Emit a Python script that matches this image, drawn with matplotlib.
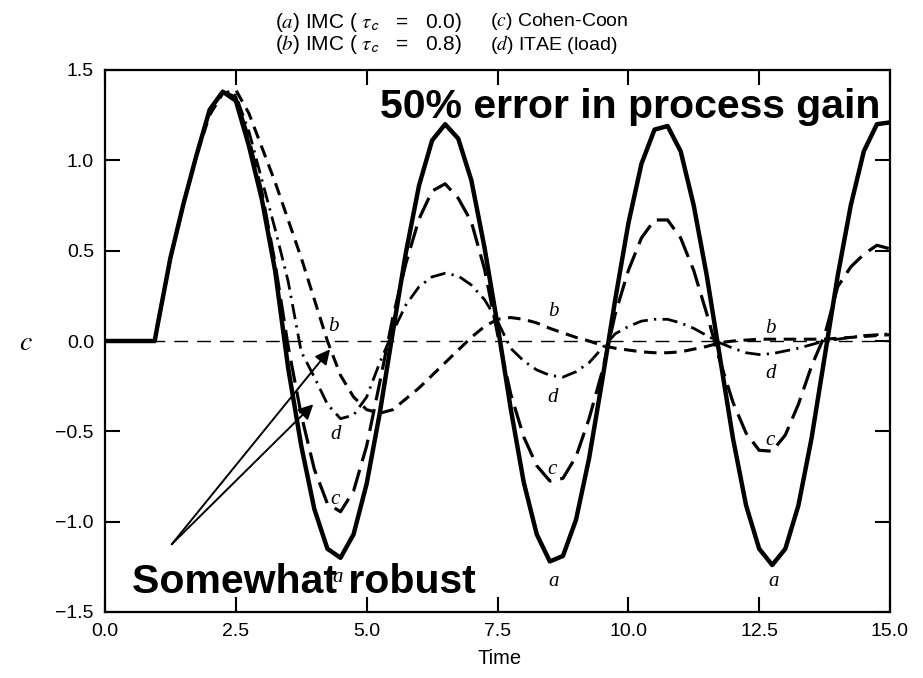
import matplotlib
matplotlib.use("Agg")
import matplotlib.pyplot as plt

plt.rcParams['font.family'] = ['Liberation Sans', 'DejaVu Sans']
plt.rcParams['mathtext.fontset'] = 'stix'
plt.rcParams['lines.scale_dashes'] = False

# ---------------- data ----------------
TIME = [0, 0.25, 0.5, 0.75, 0.95, 1.0, 1.25, 1.5, 1.75, 2.0, 2.25, 2.5, 2.75, 3.0,
        3.25, 3.5, 3.75, 4.0, 4.25, 4.5, 4.75, 5.0, 5.25, 5.5, 5.75, 6.0, 6.25,
        6.5, 6.75, 7.0, 7.25, 7.5, 7.75, 8.0, 8.25, 8.5, 8.75, 9.0, 9.25, 9.5,
        9.75, 10.0, 10.25, 10.5, 10.75, 11.0, 11.25, 11.5, 11.75, 12.0, 12.25,
        12.5, 12.75, 13.0, 13.25, 13.5, 13.75, 14.0, 14.25, 14.5, 14.75, 15.0]

# (a) IMC tau_c = 0.0
C_A = [0, 0, 0, 0, 0, 0.08, 0.46, 0.76, 1.03, 1.28, 1.38, 1.33, 1.08, 0.78,
       0.39, -0.15, -0.58, -0.93, -1.15, -1.20, -1.07, -0.79, -0.40, 0.05, 0.49,
       0.86, 1.11, 1.20, 1.12, 0.89, 0.52, 0.09, -0.37, -0.78, -1.07, -1.22,
       -1.19, -0.99, -0.65, -0.22, 0.23, 0.65, 0.98, 1.17, 1.19, 1.05, 0.75,
       0.36, -0.09, -0.54, -0.91, -1.15, -1.24, -1.15, -0.91, -0.54, -0.09,
       0.36, 0.75, 1.05, 1.20, 1.21]

# (b) IMC tau_c = 0.8
C_B = [0, 0, 0, 0, 0, 0.08, 0.46, 0.76, 1.03, 1.25, 1.37, 1.39, 1.26, 1.07,
       0.88, 0.67, 0.46, 0.23, 0.0, -0.19, -0.31, -0.38, -0.40, -0.38, -0.32,
       -0.26, -0.19, -0.12, -0.05, 0.02, 0.08, 0.12, 0.13, 0.12, 0.10, 0.07,
       0.045, 0.02, 0.0, -0.025, -0.04, -0.05, -0.06, -0.065, -0.065, -0.06,
       -0.045, -0.03, -0.01, 0.0, 0.005, 0.01, 0.01, 0.01, 0.01, 0.01, 0.01,
       0.015, 0.02, 0.025, 0.03, 0.035]

# (c) Cohen-Coon
C_C = [0, 0, 0, 0, 0, 0.08, 0.46, 0.76, 1.03, 1.28, 1.38, 1.35, 1.12, 0.82,
       0.43, -0.03, -0.41, -0.71, -0.90, -0.945, -0.83, -0.58, -0.23, 0.13,
       0.43, 0.675, 0.83, 0.87, 0.79, 0.66, 0.40, 0.04, -0.29, -0.53, -0.69,
       -0.775, -0.76, -0.64, -0.43, -0.17, 0.15, 0.39, 0.57, 0.67, 0.67, 0.57,
       0.39, 0.15, -0.11, -0.34, -0.51, -0.605, -0.61, -0.52, -0.35, -0.14,
       0.03, 0.30, 0.41, 0.48, 0.53, 0.51]

# (d) ITAE (load)
C_D = [0, 0, 0, 0, 0, 0.08, 0.46, 0.76, 1.03, 1.28, 1.38, 1.36, 1.16, 0.89,
       0.62, 0.33, -0.06, -0.20, -0.35, -0.43, -0.41, -0.31, -0.12, 0.05, 0.20,
       0.30, 0.355, 0.375, 0.36, 0.31, 0.23, 0.11, -0.04, -0.11, -0.16, -0.19,
       -0.20, -0.17, -0.12, -0.04, 0.04, 0.08, 0.11, 0.12, 0.12, 0.10, 0.07,
       0.03, -0.01, -0.04, -0.065, -0.075, -0.07, -0.055, -0.04, -0.02, 0.0,
       0.01, 0.02, 0.03, 0.035, 0.04]

X_TICKS = [0.0, 2.5, 5.0, 7.5, 10.0, 12.5, 15.0]
X_LABELS = ["0.0", "2.5", "5.0", "7.5", "10.0", "12.5", "15.0"]
Y_TICKS = [-1.5, -1.0, -0.5, 0.0, 0.5, 1.0, 1.5]
Y_LABELS = ["\u22121.5", "\u22121.0", "\u22120.5", "0.0", "0.5", "1.0", "1.5"]

# ---------------- figure ----------------
fig = plt.figure(figsize=(9.23, 6.78), dpi=100)
ax = fig.add_axes([105 / 923, 1 - 612 / 678, 785 / 923, 542 / 678])

ax.axhline(0, color='black', lw=1.0, dashes=(10, 6.5), zorder=1)

ax.plot(TIME, C_B, color='black', lw=2.2, dashes=(9, 5.5),
        dash_joinstyle='round', zorder=2)
ax.plot(TIME, C_C, color='black', lw=2.3, dashes=(16, 6.5),
        dash_joinstyle='round', zorder=2)
ax.plot(TIME, C_D, color='black', lw=2.0, dashes=(11, 4.5, 1.6, 4.5),
        dash_joinstyle='round', zorder=2)
ax.plot(TIME, C_A, color='black', lw=3.2, solid_joinstyle='round',
        solid_capstyle='round', zorder=3)

ax.set_xlim(0, 15)
ax.set_ylim(-1.5, 1.5)
ax.set_xticks(X_TICKS)
ax.set_xticklabels(X_LABELS)
ax.set_yticks(Y_TICKS)
ax.set_yticklabels(Y_LABELS)
ax.tick_params(direction='in', length=11, width=1.5, top=True, right=True,
               labelsize=14, pad=8)
for sp in ax.spines.values():
    sp.set_linewidth(1.6)

# curve letters
curve_labels = [("b", 4.36, 0.08), ("d", 4.40, -0.515), ("c", 4.40, -0.875),
                ("a", 4.44, -1.31),
                ("b", 8.57, 0.165), ("d", 8.55, -0.315), ("c", 8.55, -0.71),
                ("a", 8.57, -1.33),
                ("b", 12.71, 0.07), ("d", 12.71, -0.18), ("c", 12.71, -0.55),
                ("a", 12.77, -1.33)]
for letter, tx, ty in curve_labels:
    ax.text(tx, ty, letter, family='Liberation Serif', style='italic',
            fontsize=15, ha='center', va='center', zorder=4)

# annotations
ax.text(5.26, 1.234, "50% error in process gain", fontsize=29.5,
        fontweight='bold', ha='left', va='baseline', zorder=5, clip_on=False)
ax.text(0.52, -1.393, "Somewhat robust", fontsize=29.5, fontweight='bold',
        ha='left', va='baseline', zorder=5)
for tip in [(4.30, -0.046), (3.98, -0.35)]:
    ax.annotate("", xy=tip, xytext=(1.275, -1.125),
                arrowprops=dict(arrowstyle='-|>', color='black', lw=1.4,
                                mutation_scale=22, shrinkA=0, shrinkB=0),
                zorder=5)

# axis labels
fig.text(26 / 923, 1 - 343 / 678, "$c$", fontsize=20, ha='center', va='center')
fig.text(500 / 923, 1 - 658 / 678, "Time", fontsize=14.5, ha='center', va='center')

# legend text at top
leg = [(275, 22, r"($a$) IMC ( $\tau_{\mathsf{c}}$   =   0.0)", 15),
       (490, 22, r"($c$) Cohen-Coon", 14),
       (275, 45, r"($b$) IMC ( $\tau_{\mathsf{c}}$   =   0.8)", 15),
       (490, 45, r"($d$) ITAE (load)", 14)]
for px, py, s, fs in leg:
    fig.text(px / 923, 1 - py / 678, s, fontsize=fs, ha='left', va='center')

fig.savefig("out.png", dpi=100)
